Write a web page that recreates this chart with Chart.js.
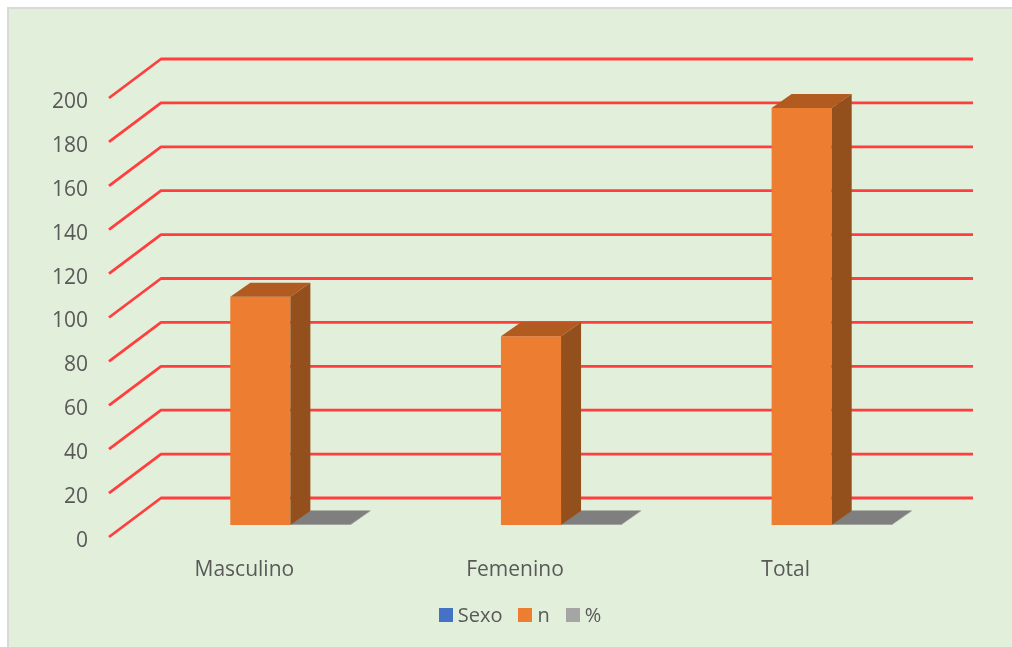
<!DOCTYPE html>
<html>
<head>
<meta charset="utf-8">
<script src="https://cdn.jsdelivr.net/npm/chart.js@4"></script>
<style>
  html, body { margin: 0; padding: 0; background: #fff; overflow: hidden; }
  #panel { position: absolute; left: 7px; top: 7px; right: 0; bottom: 0; background: #E2EFDA; border-left: 2px solid #d9d9d9; border-top: 2px solid #d9d9d9; }
  #chart { position: absolute; left: 0; top: 0; filter: blur(0.45px); }
</style>
</head>
<body>
<div id="panel"></div>
<canvas id="chart" width="1012" height="647"></canvas>
<script>
const categories = ["Masculino", "Femenino", "Total"];
const sexoValues = [null, null, null];
const nValues = [104, 86, 190];
const percentValues = [0.2, 0.2, 0.2];

const frontColors = ["#4472C4", "#ED7D31", "#A5A5A5"];
const sideColors = ["#2F528F", "#94501C", "#7F7F7F"];
const topColors = ["#365F9E", "#B15B20", "#7F7F7F"];

const gridColor = "#FF3F3F";
const textColor = "#595959";

// 3D look: wall depth and where the bars sit inside it
const wallDx = 52, wallDy = -39;
const barShiftX = 16, barShiftY = -12;
const barDx = 20, barDy = -14;

Chart.defaults.font.family = "'Open Sans'";
Chart.defaults.font.size = 21;
Chart.defaults.color = textColor;

// Start of legend swatch
function makeSwatch(color) {
  const c = document.createElement("canvas");
  c.width = 14;
  c.height = 16;
  const g = c.getContext("2d");
  g.fillStyle = color;
  g.fillRect(0, 0, 14, 14);
  return c;
}
// End of legend swatch

const wallPlugin = {
  id: "wall",
  beforeDatasetsDraw(chart) {
    const { ctx, chartArea, scales } = chart;
    ctx.save();
    ctx.strokeStyle = gridColor;
    ctx.lineWidth = 2.8;
    ctx.lineJoin = "round";
    scales.y.ticks.forEach(tick => {
      const y = scales.y.getPixelForValue(tick.value);
      ctx.beginPath();
      ctx.moveTo(chartArea.left, y);
      ctx.lineTo(chartArea.left + wallDx, y + wallDy);
      ctx.lineTo(chartArea.right + wallDx, y + wallDy);
      ctx.stroke();
    });
    ctx.restore();
  },
};

const depthPlugin = {
  id: "depth",
  beforeDatasetDraw(chart) {
    chart.ctx.save();
    chart.ctx.translate(barShiftX, barShiftY);
  },
  afterDatasetDraw(chart, args) {
    const ctx = chart.ctx;
    const values = chart.data.datasets[args.index].data;
    args.meta.data.forEach((bar, i) => {
      if (values[i] === null) return;
      const left = bar.x - bar.width / 2;
      const right = bar.x + bar.width / 2;
      // top
      ctx.fillStyle = topColors[args.index];
      ctx.beginPath();
      ctx.moveTo(left, bar.y);
      ctx.lineTo(left + barDx, bar.y + barDy);
      ctx.lineTo(right + barDx, bar.y + barDy);
      ctx.lineTo(right, bar.y);
      ctx.closePath();
      ctx.fill();
      // side
      ctx.fillStyle = sideColors[args.index];
      ctx.beginPath();
      ctx.moveTo(right, bar.y);
      ctx.lineTo(right + barDx, bar.y + barDy);
      ctx.lineTo(right + barDx, bar.base + barDy);
      ctx.lineTo(right, bar.base);
      ctx.closePath();
      ctx.fill();
    });
    ctx.restore();
  },
};

const nudgePlugin = {
  id: "nudge",
  afterLayout(chart) {
    chart.legend.left += 36;
    chart.legend.right += 36;
    // y labels sit a little under their tick in the reference
    const yScale = chart.scales.y;
    if (!yScale.nudged) {
      const drawLabels = yScale.drawLabels.bind(yScale);
      yScale.drawLabels = area => {
        chart.ctx.save();
        chart.ctx.translate(0, 4);
        drawLabels(area);
        chart.ctx.restore();
      };
      yScale.nudged = true;
    }
  },
};

new Chart(document.getElementById("chart").getContext("2d"), {
  type: "bar",
  data: {
    labels: categories,
    datasets: [
      { label: "Sexo", data: sexoValues, backgroundColor: frontColors[0], clip: false },
      { label: "n", data: nValues, backgroundColor: frontColors[1], clip: false },
      { label: "%", data: percentValues, backgroundColor: frontColors[2], clip: false },
    ],
  },
  plugins: [wallPlugin, depthPlugin, nudgePlugin],
  options: {
    responsive: false,
    animation: false,
    categoryPercentage: 0.666,
    barPercentage: 1,
    layout: { padding: { left: 52, right: 91, top: 98, bottom: 11 } },
    scales: {
      x: {
        grid: { display: false },
        border: { display: false },
        ticks: { padding: 12, maxRotation: 0 },
        afterFit(scale) { scale.height = 48; },
      },
      y: {
        min: 0,
        max: 200,
        grid: { display: false },
        border: { display: false },
        ticks: { stepSize: 20, padding: 13 },
        afterFit(scale) { scale.width = 57; },
      },
    },
    plugins: {
      tooltip: { enabled: false },
      legend: {
        position: "bottom",
        labels: {
          usePointStyle: true,
          pointStyleWidth: 4,
          padding: 21,
          font: { size: 20 },
          generateLabels(chart) {
            return chart.data.datasets.map((d, i) => ({
              text: d.label,
              fontColor: textColor,
              pointStyle: makeSwatch(d.backgroundColor),
              datasetIndex: i,
            }));
          },
        },
      },
    },
  },
});
</script>
</body>
</html>
